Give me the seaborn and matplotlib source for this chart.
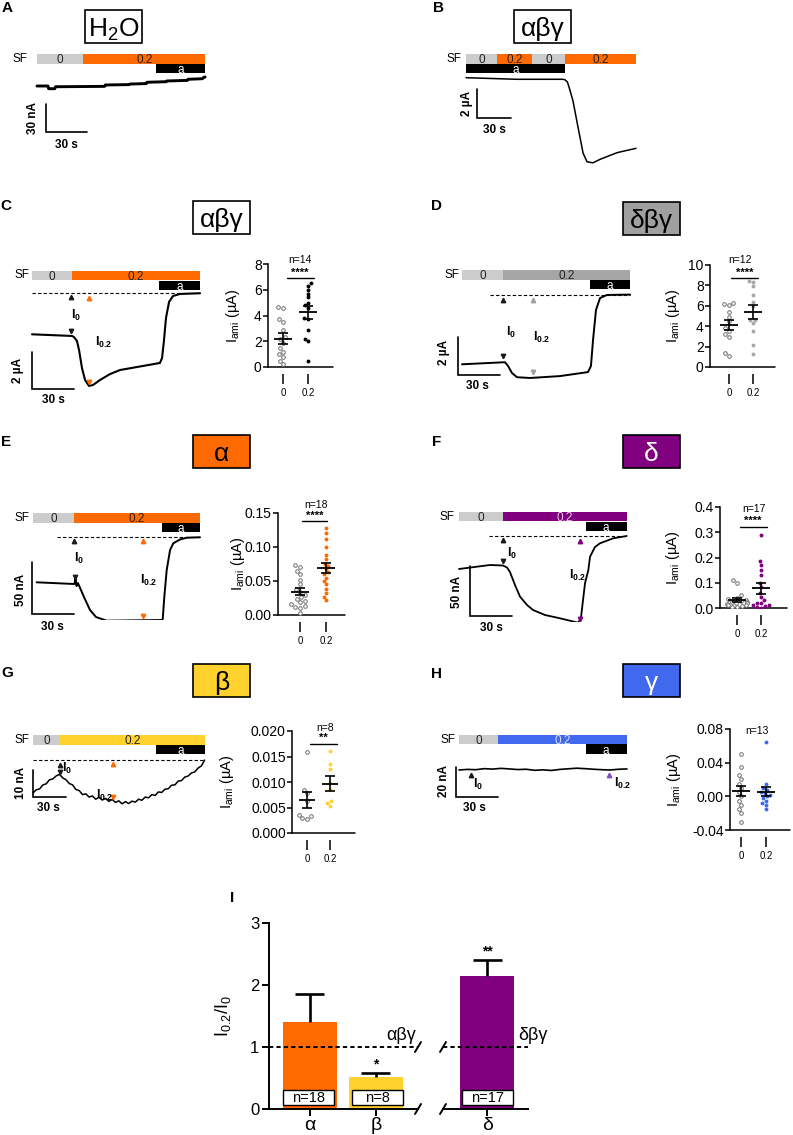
import numpy as np
import pandas as pd
import matplotlib
matplotlib.use("Agg")
import matplotlib.pyplot as plt
from matplotlib.patches import Rectangle
import seaborn as sns

# ======================= DATA =======================
# --- current traces: time (s) and current (A: nA, B-D: uA, E-H: nA) ---
A_t = [0, 8, 8.5, 13, 13.5, 49.5, 50, 67.5, 68, 80, 80.5, 94.5, 95, 110, 110.5, 121, 122, 123]
A_i = [0, 0, -2.9, -2.9, -0.8, -0.4, 1.1, 1.5, 2.1, 2.6, 4.0, 4.6, 5.4, 6.0, 7.2, 7.8, 9.3, 9.6]

B_t = [0, 45, 85.6, 87.5, 89.5, 91.5, 94.4, 98.8, 103.3, 106.8, 112, 118.3, 133.3, 150]
B_i = [0, -0.11, -0.11, -0.15, -0.3, -0.8, -1.6, -3.4, -5.2, -5.8, -5.87, -5.63, -5.17, -4.87]

C_t = [0, 28.6, 30, 32.1, 33.6, 35.7, 37.9, 40.7, 43.6, 48.6, 55.7, 62.9, 91.4, 92.9, 94.3, 95.7, 97.9, 100.7, 105.7, 120]
C_i = [0, -0.09, -0.15, -0.36, -0.85, -1.82, -2.47, -2.79, -2.74, -2.47, -2.15, -1.93, -1.55, -1.28, -0.31, 0.88, 1.75, 2.07, 2.18, 2.22]

D_t = [0, 30.7, 32.9, 35.7, 39.3, 48.6, 70, 90, 92.1, 93.6, 95.7, 98.6, 103.6, 120]
D_i = [0, 0.11, -0.09, -0.46, -0.68, -0.72, -0.62, -0.41, -0.09, 1.28, 2.86, 3.49, 3.65, 3.67]

E_t = [2.6, 28.8, 29.6, 30.4, 31.1, 32.1, 36.4, 40.7, 45, 52.6, 90.7, 92.6, 93.9, 95.5, 97.9, 100.2, 105, 110, 119.3]
E_i = [0, -1.6, -1.6, 4.1, -3.6, -0.7, -14.1, -26.6, -33.4, -36.9, -36.3, -36.3, -12.3, 11.8, 31, 37.5, 41.2, 42.9, 43.3]

F_t = [0, 22.1, 31.4, 34.3, 36.4, 40, 43.6, 48.6, 52.9, 61.4, 72.1, 85.2, 87.1, 88.6, 90, 92.4, 93.6, 97.1, 100.7, 110.2, 119.8]
F_i = [-2, 2, 1.5, -0.5, -5, -18, -29.7, -38, -43, -48, -51.3, -55.7, -51, -33, -16.3, -3, 10.3, 20, 23.7, 28.7, 31]

G_t = [0, 3, 6, 9, 12, 15, 18, 21, 24, 27, 30, 33, 36, 39, 42, 45, 48, 51, 54, 57, 60, 63, 66, 69, 72,
       75, 78, 81, 84, 87, 90, 93, 96, 99, 102, 105, 108, 111, 114, 117, 120, 123, 126, 129, 132, 135,
       138, 141, 144, 147, 150, 153, 156]
G_i = [0.0, 1.2, 1.5, 3.0, 3.4, 4.9, 5.2, 6.3, 6.9, 5.6, 4.9, 3.5, 3.0, 1.3, 0.9, -0.6, -0.3, -1.5, -1.1,
       -2.3, -1.6, -2.6, -2.0, -3.1, -2.4, -3.5, -2.9, -4.0, -3.2, -3.9, -3.0, -3.4, -2.3, -2.7, -1.5,
       -1.8, -0.6, -0.9, 0.4, 0.2, 1.4, 1.6, 2.9, 3.0, 4.4, 4.6, 5.9, 6.3, 7.4, 7.8, 9.2, 10.0, 12.2]

H_t = [0, 6, 12, 18, 24, 30, 36, 42, 48, 54, 60, 66, 72, 78, 84, 90, 96, 102, 108, 114, 120]
H_i = [0, 0.4, 0.2, 0.9, 0.6, 1.1, 0.7, 0.3, 0.5, -0.2, 0.1, -0.3, 0.4, 0.8, 1.2, 0.9, 0.5, 0.2, 0.0, 0.5, 0.7]

# amiloride baselines (dashed lines)
C_base, D_base, E_base, F_base, G_base = 2.22, 3.67, 43.3, 31.0, 12.2

# --- solution protocols (s) ---
A_sf_start, A_sf_end, A_sf_lab, A_a = [0, 34], [34, 123], ["0", "0.2"], [87, 123]
B_sf_start, B_sf_end, B_sf_lab, B_a = [0, 27.4, 58.2, 87.4], [27.4, 58.2, 87.4, 150], ["0", "0.2", "0", "0.2"], [0, 87.4]
C_sf_start, C_sf_end, C_sf_lab, C_a = [0, 28.6], [28.6, 120], ["0", "0.2"], [90.7, 120]
D_sf_start, D_sf_end, D_sf_lab, D_a = [0, 29.3], [29.3, 120], ["0", "0.2"], [91.4, 120]
E_sf_start, E_sf_end, E_sf_lab, E_a = [0, 29.3], [29.3, 119.3], ["0", "0.2"], [92.1, 119.3]
F_sf_start, F_sf_end, F_sf_lab, F_a = [0, 31.4], [31.4, 119.8], ["0", "0.2"], [90.5, 119.8]
G_sf_start, G_sf_end, G_sf_lab, G_a = [0, 24.5], [24.5, 156.4], ["0", "0.2"], [111.5, 156.4]
H_sf_start, H_sf_end, H_sf_lab, H_a = [0, 27.9], [27.9, 119.8], ["0", "0.2"], [90.5, 119.8]

# --- amiloride-sensitive currents (uA), SF 0 vs SF 0.2 ---
group_labels = ["0", "0.2"]
C0 = [4.65, 4.6, 3.7, 3.5, 2.9, 2.3, 2.2, 1.9, 1.5, 1.2, 1.0, 0.8, 0.5, 0.2]
C2 = [6.5, 6.3, 6.0, 5.7, 5.4, 5.0, 4.8, 4.6, 3.8, 3.7, 2.9, 2.2, 2.0, 0.45]
D0 = [6.25, 6.2, 6.1, 5.4, 4.95, 4.5, 3.8, 3.5, 3.2, 2.9, 1.4, 1.1]
D2 = [8.4, 8.3, 7.9, 7.1, 6.0, 6.4, 4.6, 4.6, 4.3, 3.5, 2.2, 1.3]
E0 = [0.073, 0.071, 0.065, 0.06, 0.052, 0.045, 0.038, 0.034, 0.03, 0.027, 0.024, 0.021, 0.019, 0.016,
      0.013, 0.012, 0.011, 0.003]
E2 = [0.128, 0.12, 0.112, 0.1, 0.088, 0.082, 0.075, 0.072, 0.068, 0.063, 0.06, 0.055, 0.05, 0.045,
      0.038, 0.032, 0.027, 0.022]
F0 = [0.11, 0.1, 0.05, 0.04, 0.035, 0.03, 0.028, 0.025, 0.022, 0.02, 0.018, 0.015, 0.012, 0.01, 0.008,
      0.005, 0.002]
F2 = [0.29, 0.185, 0.17, 0.15, 0.13, 0.1, 0.085, 0.06, 0.045, 0.03, 0.02, 0.018, 0.012, 0.01, 0.006,
      0.003, 0.0]
G0 = [0.0158, 0.0085, 0.0078, 0.0062, 0.0036, 0.003, 0.0028, 0.0034]
G2 = [0.016, 0.0135, 0.0125, 0.0098, 0.0086, 0.0062, 0.0058, 0.0052]
H0 = [0.05, 0.035, 0.025, 0.02, 0.015, 0.01, 0.005, 0.0, -0.005, -0.01, -0.015, -0.02, -0.03]
H2 = [0.065, 0.015, 0.01, 0.008, 0.005, 0.004, 0.002, 0.0, -0.002, -0.005, -0.008, -0.01, -0.015]
n_C, n_D, n_E, n_F, n_G, n_H = 14, 12, 18, 17, 8, 13
sig_C, sig_D, sig_E, sig_F, sig_G, sig_H = "****", "****", "****", "****", "**", ""

# --- panel I: I0.2/I0 ratio ---
I_left_cat = ["α", "β"]
I_left_val = [1.40, 0.52]
I_left_err = [0.45, 0.06]
I_left_n = [18, 8]
I_left_sig = ["", "*"]
I_right_cat = ["δ"]
I_right_val = [2.15]
I_right_err = [0.25]
I_right_n = [17]
I_right_sig = ["**"]
I_ref = 1.0

# ======================= STYLE =======================
W, H = 793, 1135
ORANGE, YELLOW, PURPLE, BLUE = "#ff6a00", "#ffd22e", "#800080", "#4169ee"
LGREY, DGREY = "#cccccc", "#a6a6a6"

sns.set_theme(style="ticks", rc={"axes.edgecolor": "black", "xtick.color": "black",
                                 "ytick.color": "black", "text.color": "black",
                                 "axes.labelcolor": "black"})
plt.rcParams["font.family"] = ["Liberation Sans", "DejaVu Sans"]
plt.rcParams.update({"mathtext.fontset": "custom", "mathtext.rm": "Liberation Sans",
                     "mathtext.it": "Liberation Sans:italic", "mathtext.bf": "Liberation Sans:bold",
                     "mathtext.default": "regular"})

fig = plt.figure(figsize=(W / 100, H / 100), dpi=100)
fig.patch.set_facecolor("white")


def frac(x, y, w, h):
    return [x / W, 1 - (y + h) / H, w / W, h / H]


ov = fig.add_axes([0, 0, 1, 1], zorder=50)
ov.set_xlim(0, W)
ov.set_ylim(H, 0)
ov.axis("off")

# ---------------- trace panels ----------------
geo = {
    "A": dict(xo=37, yo=86, pps=41 / 30, ppu=28 / 30, xr=(33, 213), ytop=72, ybot=140, sf_y=54,
              corner=(46, 132), scale=(30, 30), lw=2.1, dash=None),
    "B": dict(xo=466, yo=77.7, pps=34 / 30, ppu=14.5, xr=(462, 642), ytop=72, ybot=168, sf_y=54,
              corner=(477, 118), scale=(30, 2), lw=1.1, dash=None),
    "C": dict(xo=32, yo=334.3, pps=1.4, ppu=18.5, xr=(28, 205), ytop=286, ybot=395, sf_y=270.5,
              corner=(32, 389), scale=(30, 2), lw=1.5, dash=32),
    "D": dict(xo=462, yo=364.3, pps=1.4, ppu=19, xr=(455, 635), ytop=286, ybot=382, sf_y=270,
              corner=(458, 375), scale=(30, 2), lw=1.4, dash=490),
    "E": dict(xo=33, yo=582.3, pps=1.4, ppu=1.04, xr=(28, 205), ytop=533, ybot=620, sf_y=513,
              corner=(32, 614), scale=(30, 50), lw=1.4, dash=57),
    "F": dict(xo=459, yo=567, pps=1.4, ppu=1.0, xr=(455, 632), ytop=531, ybot=622, sf_y=511.7,
              corner=(470, 616), scale=(30, 50), lw=1.3, dash=489),
    "G": dict(xo=33, yo=793, pps=1.1, ppu=2.7, xr=(28, 210), ytop=755, ybot=810, sf_y=735,
              corner=(33, 797), scale=(30, 10), lw=1.1, dash=33),
    "H": dict(xo=459, yo=770, pps=1.4, ppu=1.5, xr=(453, 632), ytop=760, ybot=800, sf_y=734.3,
              corner=(456, 797), scale=(30, 20), lw=1.2, dash=None),
}


def trace_panel(key, t, i, starts, ends, labels, colors, tcolors, a_rng, base=None):
    g = geo[key]
    x0, x1 = g["xr"]
    xl = ((x0 - g["xo"]) / g["pps"], (x1 - g["xo"]) / g["pps"])
    ax = fig.add_axes(frac(x0, g["ytop"], x1 - x0, g["ybot"] - g["ytop"]))
    sns.lineplot(x=t, y=i, ax=ax, color="black", linewidth=g["lw"], estimator=None, sort=False)
    if base is not None:
        ax.plot([(g["dash"] - g["xo"]) / g["pps"], ends[-1]], [base, base], color="black",
                lw=0.8, ls=(0, (3, 2)))
    tc = (g["corner"][0] - g["xo"]) / g["pps"]
    ic = (g["yo"] - g["corner"][1]) / g["ppu"]
    st, si = g["scale"]
    ax.plot([tc, tc, tc + st], [ic + si, ic, ic], color="black", lw=1.2, clip_on=False,
            solid_joinstyle="miter")
    ax.set_xlim(*xl)
    ax.set_ylim((g["yo"] - g["ybot"]) / g["ppu"], (g["yo"] - g["ytop"]) / g["ppu"])
    ax.axis("off")
    # protocol bars
    pa = fig.add_axes(frac(x0, g["sf_y"], x1 - x0, 19.6))
    pa.barh([1.5] * len(starts), [e - s for s, e in zip(starts, ends)], left=starts, height=0.95,
            color=colors, linewidth=0)
    for s, e, lab, c in zip(starts, ends, labels, tcolors):
        pa.text((s + e) / 2, 1.5, lab, ha="center", va="center_baseline", fontsize=8.5, color=c)
    pa.barh([0.5], [a_rng[1] - a_rng[0]], left=[a_rng[0]], height=0.95, color="black", linewidth=0)
    pa.text(sum(a_rng) / 2, 0.5, "a", ha="center", va="center_baseline", fontsize=8.5, color="white")
    pa.set_xlim(*xl)
    pa.set_ylim(0, 2)
    pa.axis("off")


dk = "#222222"
trace_panel("A", A_t, A_i, A_sf_start, A_sf_end, A_sf_lab, [LGREY, ORANGE], [dk, dk], A_a)
trace_panel("B", B_t, B_i, B_sf_start, B_sf_end, B_sf_lab, [LGREY, ORANGE, LGREY, ORANGE], [dk] * 4, B_a)
trace_panel("C", C_t, C_i, C_sf_start, C_sf_end, C_sf_lab, [LGREY, ORANGE], [dk, dk], C_a, C_base)
trace_panel("D", D_t, D_i, D_sf_start, D_sf_end, D_sf_lab, [LGREY, DGREY], [dk, dk], D_a, D_base)
trace_panel("E", E_t, E_i, E_sf_start, E_sf_end, E_sf_lab, [LGREY, ORANGE], [dk, dk], E_a, E_base)
trace_panel("F", F_t, F_i, F_sf_start, F_sf_end, F_sf_lab, [LGREY, PURPLE], [dk, "#e8c8e8"], F_a, F_base)
trace_panel("G", G_t, G_i, G_sf_start, G_sf_end, G_sf_lab, [LGREY, YELLOW], [dk, dk], G_a, G_base)
trace_panel("H", H_t, H_i, H_sf_start, H_sf_end, H_sf_lab, [LGREY, BLUE], [dk, "#d8e0ff"], H_a)

# ---------------- dot panels ----------------
dgeo = {
    "C": dict(box=(268, 264, 333, 367), xlim=(-0.6, 2.0), ylim=(0, 8), yt=[0, 2, 4, 6, 8], fmt="{:g}",
              ylx=242, n=(300, 260), st=(300, 273), line=(287, 314, 278)),
    "D": dict(box=(710, 265, 775, 367), xlim=(-0.79, 1.92), ylim=(0, 10), yt=[0, 2, 4, 6, 8, 10], fmt="{:g}",
              ylx=682, n=(740, 260), st=(745, 273), line=(731, 758, 278)),
    "E": dict(box=(278, 513, 345, 615), xlim=(-0.85, 1.73), ylim=(0, 0.15), yt=[0, 0.05, 0.10, 0.15],
              fmt="{:.2f}", ylx=247, n=(316, 505), st=(315, 516), line=(302, 327, 521)),
    "F": dict(box=(720, 507, 787, 608), xlim=(-0.71, 2.08), ylim=(0, 0.4), yt=[0, 0.1, 0.2, 0.3, 0.4],
              fmt="{:.1f}", ylx=682, n=(754, 509), st=(753, 521), line=(740, 767, 527)),
    "G": dict(box=(292, 731, 355, 833), xlim=(-0.65, 2.09), ylim=(0, 0.02),
              yt=[0, 0.005, 0.010, 0.015, 0.020], fmt="{:.3f}", ylx=236, n=(325, 728), st=(323, 738),
              line=(310, 337, 744)),
    "H": dict(box=(730, 729, 790, 830), xlim=(-0.44, 1.96), ylim=(-0.04, 0.08), yt=[-0.04, 0, 0.04, 0.08],
              fmt="{:.2f}", ylx=683, n=(757, 731), st=None, line=None),
}


def dot_panel(key, v0, v2, col, n, sig):
    g = dgeo[key]
    L, T, R, B = g["box"]
    ax = fig.add_axes(frac(L, T, R - L, B - T))
    df = pd.DataFrame({"grp": [group_labels[0]] * len(v0) + [group_labels[1]] * len(v2),
                       "val": list(v0) + list(v2)})
    sns.swarmplot(data=df[df.grp == group_labels[0]], x="grp", y="val", order=group_labels, ax=ax,
                  color="white", edgecolor="#6e6e6e", linewidth=0.7, size=2.6, warn_thresh=1)
    sns.swarmplot(data=df[df.grp == group_labels[1]], x="grp", y="val", order=group_labels, ax=ax,
                  color=col, linewidth=0, size=2.8, warn_thresh=1)
    for k, v in enumerate([v0, v2]):
        m = np.mean(v)
        s = np.std(v, ddof=1) / np.sqrt(len(v))
        ax.hlines(m, k - 0.36, k + 0.36, color="black", lw=1.3, zorder=6)
        ax.errorbar(k, m, yerr=s, fmt="none", ecolor="black", elinewidth=1.2, capsize=3.5,
                    capthick=1.2, zorder=6)
    ax.set_xlim(*g["xlim"])
    ax.set_ylim(*g["ylim"])
    ax.set_yticks(g["yt"])
    ax.set_yticklabels([g["fmt"].format(v) for v in g["yt"]])
    ax.set_xticks([0, 1])
    ax.set_xticklabels(group_labels)
    sns.despine(ax=ax)
    ax.spines["left"].set_linewidth(1.1)
    ax.spines["bottom"].set_position(("outward", 5))
    ax.spines["bottom"].set_visible(False)
    ax.axhline(g["ylim"][0], color="black", lw=1.1, clip_on=False)
    ax.tick_params(axis="x", length=7, width=1.1, labelsize=7, pad=3)
    ax.tick_params(axis="y", length=3.5, width=1.1, labelsize=10, pad=1)
    ax.set_xlabel("")
    ax.set_ylabel("I$_{ami}$ (µA)", fontsize=10.5)
    ax.yaxis.set_label_coords((g["ylx"] - L) / (R - L), 0.5)
    ov.text(g["n"][0], g["n"][1], f"n={n}", ha="center", va="center", fontsize=7.5)
    if g["st"] is not None and sig:
        ov.text(g["st"][0], g["st"][1], sig, ha="center", va="center", fontsize=8, fontweight="bold")
        x0, x1, yy = g["line"]
        ov.plot([x0, x1], [yy, yy], color="black", lw=1.0)


dot_panel("C", C0, C2, "black", n_C, sig_C)
dot_panel("D", D0, D2, "#a8a8a8", n_D, sig_D)
dot_panel("E", E0, E2, ORANGE, n_E, sig_E)
dot_panel("F", F0, F2, PURPLE, n_F, sig_F)
dot_panel("G", G0, G2, YELLOW, n_G, sig_G)
dot_panel("H", H0, H2, BLUE, n_H, sig_H)

# ---------------- panel I ----------------
I_top, I_bot = 923, 1109
axL = fig.add_axes(frac(269, I_top, 418 - 269, I_bot - I_top))
axR = fig.add_axes(frac(443, I_top, 528 - 443, I_bot - I_top))
for ax, cats, vals, errs, sigs, cols, xl in [
        (axL, I_left_cat, I_left_val, I_left_err, I_left_sig, [ORANGE, YELLOW], (-0.62, 1.64)),
        (axR, I_right_cat, I_right_val, I_right_err, I_right_sig, [PURPLE], (-0.67, 0.62))]:
    sns.barplot(x=cats, y=vals, hue=cats, palette=cols, width=0.82, saturation=1, ax=ax,
                legend=False, linewidth=0)
    pos = np.arange(len(vals))
    tops = np.array(vals) + np.array(errs)
    ax.vlines(pos, vals, tops, color="black", lw=1.9, zorder=1)
    ax.hlines(tops, pos - 0.22, pos + 0.22, color="black", lw=1.9, zorder=1)
    for k, (v, e, s) in enumerate(zip(vals, errs, sigs)):
        if s:
            ax.text(k, v + e + 0.03, s, ha="center", va="bottom", fontsize=10, fontweight="bold")
    ax.axhline(I_ref, color="black", lw=1.4, ls=(0, (2.2, 1.6)), zorder=3)
    ax.set_xlim(*xl)
    ax.set_ylim(0, 3)
    ax.tick_params(axis="x", length=5, width=1.4, labelsize=14, pad=1)
    ax.tick_params(axis="y", length=5, width=1.4, labelsize=12, pad=2)
    ax.spines["bottom"].set_linewidth(1.4)
    ax.spines["left"].set_linewidth(1.4)
sns.despine(ax=axL)
sns.despine(ax=axR, left=True)
axR.set_yticks([])
axL.set_yticks([0, 1, 2, 3])
axL.set_ylabel("I$_{0.2}$/I$_0$", fontsize=13)
axL.yaxis.set_label_coords((233 - 269) / (418 - 269), 0.5)

# n boxes
for cx, n in zip([308.5, 377, 487.5], I_left_n + I_right_n):
    ov.add_patch(Rectangle((cx - 25.5, 1090), 51, 15, facecolor="white", edgecolor="black", lw=1.0))
    ov.text(cx, 1097.8, f"n={n}", ha="center", va="center", fontsize=10.5)
ov.text(401, 1036, "αβγ", ha="center", va="center", fontsize=13)
ov.text(533, 1036, "δβγ", ha="center", va="center", fontsize=13)
for bx in [418, 443]:
    for by in [1109, 1047]:
        ov.plot([bx - 3, bx + 3], [by + 5, by - 5], color="black", lw=1.4)

# ---------------- overlay annotations ----------------
for lab, x, y in [("A", 7, 8), ("B", 438, 8), ("C", 6, 206), ("D", 437, 206), ("E", 6, 442),
                  ("F", 437, 442), ("G", 7, 673), ("H", 437, 674), ("I", 232, 898)]:
    ov.text(x, y, lab, ha="center", va="center", fontsize=11, fontweight="bold")

for txt, x0, y0, fc, tc in [("H$_2$O", 85, 10, "white", "black"), ("αβγ", 514, 10, "white", "black"),
                            ("αβγ", 193, 201, "white", "black"), ("δβγ", 623, 202, "#a0a0a0", "black"),
                            ("α", 193, 435, ORANGE, "black"), ("δ", 623, 435, PURPLE, "white"),
                            ("β", 193, 664, YELLOW, "black"), ("γ", 623, 664, BLUE, "white")]:
    ov.add_patch(Rectangle((x0, y0), 57, 33, facecolor=fc, edgecolor="black", lw=1.2))
    ov.text(x0 + 28.5, y0 + 16.5, txt, ha="center", va="center_baseline", fontsize=19, color=tc)

for x, y in [(20, 59), (454, 59), (22, 275), (452, 275), (22, 518), (447, 517), (22, 740), (448, 740)]:
    ov.text(x, y, "SF", ha="center", va="center", fontsize=8.5)

for txt, x, y, rot in [("30 nA", 33, 118, 90), ("30 s", 66, 145, 0), ("2 µA", 467, 103, 90),
                       ("30 s", 494, 130, 0), ("2 µA", 18, 370, 90), ("30 s", 53, 400, 0),
                       ("2 µA", 444, 352, 90), ("30 s", 477, 386, 0), ("50 nA", 21, 590, 90),
                       ("30 s", 52, 627, 0), ("50 nA", 457, 592, 90), ("30 s", 491, 628, 0),
                       ("10 nA", 21, 783, 90), ("30 s", 48, 808, 0), ("20 nA", 444, 781, 90),
                       ("30 s", 474, 808, 0)]:
    ov.text(x, y, txt, ha="center", va="center", fontsize=8.5, fontweight="bold", rotation=rot)

for x, y, m, c in [(71, 297, "^", "k"), (71, 331, "v", "k"), (89, 298, "^", ORANGE), (89, 382, "v", ORANGE),
                   (503, 300, "^", "k"), (503, 356, "v", "k"), (533, 300, "^", "#a0a0a0"), (533, 372, "v", "#a0a0a0"),
                   (74, 541, "^", "k"), (75, 577, "v", "k"), (143, 541, "^", ORANGE), (143, 616, "v", ORANGE),
                   (503, 540, "^", "k"), (503, 561, "v", "k"), (580, 541, "^", PURPLE), (580, 619, "v", PURPLE),
                   (60, 765, "^", "k"), (60, 772, "v", "k"), (113, 764, "^", ORANGE), (113, 797, "v", ORANGE),
                   (471, 775, "^", "k"), (609, 775, "^", "#7a4fc0")]:
    ov.plot([x], [y], marker=m, ms=3.2, color=c, ls="none")

for txt, x, y in [("I$_0$", 76, 315), ("I$_{0.2}$", 104, 342), ("I$_0$", 511, 332), ("I$_{0.2}$", 542, 337),
                  ("I$_0$", 79, 558), ("I$_{0.2}$", 149, 580), ("I$_0$", 512, 553), ("I$_{0.2}$", 578, 575),
                  ("I$_0$", 67, 768), ("I$_{0.2}$", 105, 795), ("I$_0$", 478, 784), ("I$_{0.2}$", 623, 783)]:
    ov.text(x, y, r"$\mathbf{" + txt.replace("$", "") + "}$", ha="center", va="center", fontsize=9)

fig.savefig("out.png", dpi=100)
